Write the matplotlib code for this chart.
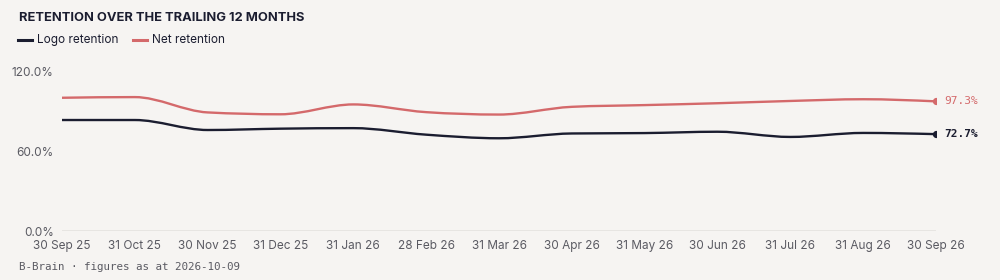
import matplotlib
matplotlib.use("Agg")
import matplotlib.pyplot as plt
import numpy as np
from matplotlib.path import Path
from matplotlib.patches import PathPatch

# data
months = ["30 Sep 25", "31 Oct 25", "30 Nov 25", "31 Dec 25", "31 Jan 26", "28 Feb 26",
          "31 Mar 26", "30 Apr 26", "31 May 26", "30 Jun 26", "31 Jul 26", "31 Aug 26", "30 Sep 26"]
logo_retention = [83.3, 83.3, 75.8, 76.8, 77.2, 72.3, 69.6, 73.2, 73.5, 74.5, 70.6, 73.6, 72.7]
net_retention = [100.0, 100.5, 89.0, 87.6, 95.0, 89.2, 87.4, 93.2, 94.5, 95.9, 97.6, 98.9, 97.3]
y_ticks = [0, 60, 120]

BG = "#f6f4f2"
NAVY = "#1b1d30"
RED = "#d4696b"
GREY = "#5a5a62"


def monotone_path(x, y):
    # monotone cubic (like d3 curveMonotoneX), built as bezier segments
    x = np.asarray(x, float)
    y = np.asarray(y, float)
    n = len(x)
    h = np.diff(x)
    s = np.diff(y) / h
    t = np.zeros(n)
    for i in range(1, n - 1):
        if s[i - 1] * s[i] <= 0:
            t[i] = 0
        else:
            p = (s[i - 1] * h[i] + s[i] * h[i - 1]) / (h[i - 1] + h[i])
            t[i] = (np.sign(s[i - 1]) + np.sign(s[i])) * min(abs(s[i - 1]), abs(s[i]), 0.5 * abs(p))
    t[0] = (3 * s[0] - t[1]) / 2 if n > 2 else s[0]
    t[-1] = (3 * s[-1] - t[-2]) / 2 if n > 2 else s[-1]
    verts = [(x[0], y[0])]
    codes = [Path.MOVETO]
    for i in range(n - 1):
        dx = h[i] / 3
        verts += [(x[i] + dx, y[i] + dx * t[i]), (x[i + 1] - dx, y[i + 1] - dx * t[i + 1]), (x[i + 1], y[i + 1])]
        codes += [Path.CURVE4] * 3
    return Path(verts, codes)


fig = plt.figure(figsize=(10, 2.8), dpi=100, facecolor=BG)
ax = fig.add_axes([0.062, 0.175, 0.874, 0.571])
ax.set_facecolor(BG)

xs = np.arange(len(months))
for vals, col in [(net_retention, RED), (logo_retention, NAVY)]:
    ax.add_patch(PathPatch(monotone_path(xs, vals), fill=False, edgecolor=col, lw=1.7, capstyle="round"))
    ax.plot(xs[-1], vals[-1], "o", color=col, ms=4.2, zorder=5)

ax.annotate(f"{net_retention[-1]:.1f}%", (xs[-1], net_retention[-1]), xytext=(6, 0), textcoords="offset points",
            va="center", ha="left", color=RED, fontsize=8, family="DejaVu Sans Mono", annotation_clip=False)
ax.annotate(f"{logo_retention[-1]:.1f}%", (xs[-1], logo_retention[-1]), xytext=(6, 0), textcoords="offset points",
            va="center", ha="left", color=NAVY, fontsize=8, fontweight="bold", family="DejaVu Sans Mono",
            annotation_clip=False)

ax.set_xlim(0, len(months) - 1)
ax.set_ylim(0, 120)
ax.set_xticks(xs)
ax.set_xticklabels(months)
ax.set_yticks(y_ticks)
ax.set_yticklabels([f"{v:.1f}%" for v in y_ticks])
ax.tick_params(length=0, labelsize=8.5, labelcolor=GREY)
ax.tick_params(axis="x", pad=6.5)
ax.tick_params(axis="y", pad=6)
for lab in ax.get_xticklabels() + ax.get_yticklabels():
    lab.set_family("Inter")
for sp in ax.spines.values():
    sp.set_visible(False)
ax.axhline(0, color="#e4e2df", lw=1.2, zorder=0)

# title, legend, footer
fig.text(0.019, 0.935, "RETENTION OVER THE TRAILING 12 MONTHS", fontsize=9.3, fontweight="bold",
         color=NAVY, family="Inter", va="center")
fig.add_artist(plt.Line2D([0.018, 0.032], [0.858, 0.858], color=NAVY, lw=2.2))
fig.text(0.037, 0.858, "Logo retention", fontsize=8.5, color=NAVY, family="Inter", va="center")
fig.add_artist(plt.Line2D([0.133, 0.147], [0.858, 0.858], color=RED, lw=2.2))
fig.text(0.152, 0.858, "Net retention", fontsize=8.5, color=NAVY, family="Inter", va="center")
fig.text(0.019, 0.045, "B-Brain \u00b7 figures as at 2026-10-09", fontsize=7.8, color=GREY,
         family="DejaVu Sans Mono", va="center")

fig.savefig("out.png", dpi=100, facecolor=BG)
